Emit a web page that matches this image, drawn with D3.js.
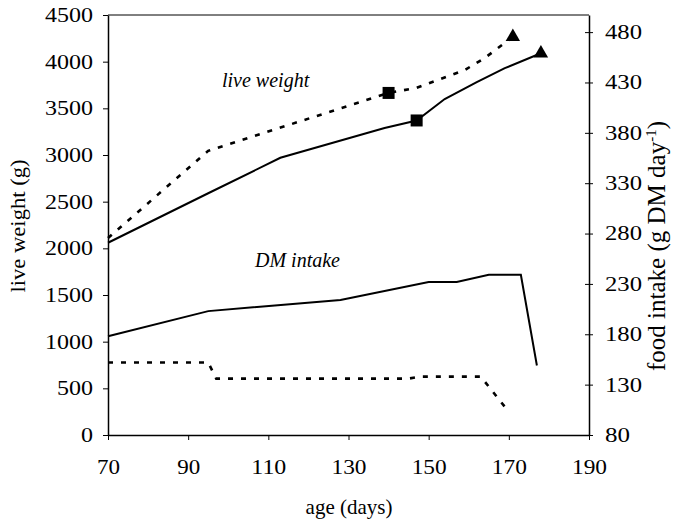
<!DOCTYPE html>
<html>
<head>
<meta charset="utf-8">
<script src="https://cdn.jsdelivr.net/npm/d3@7"></script>
<style>
  body { margin: 0; background: #fff; }
  svg { display: block; font-family: "Liberation Serif", "Times New Roman", serif; }
</style>
</head>
<body>
<svg id="chart" width="675" height="523"></svg>
<script>
// live weight (left axis, g)
const lwSolidDays = [70, 95, 113, 139, 147, 154, 162, 169, 178];
const lwSolid = [2060, 2590, 2970, 3290, 3370, 3600, 3780, 3930, 4090];
const lwDashDays = [70, 95, 140, 147, 159, 164, 171];
const lwDash = [2110, 3045, 3665, 3720, 3910, 4040, 4265];

// DM intake (right axis, g DM/day)
const dmSolidDays = [70, 95, 128, 150, 157, 165, 173, 177];
const dmSolid = [178, 203, 214, 232, 232, 239, 239, 149];
const dmDashDays = [70, 95, 97, 145, 148, 163, 170];
const dmDash = [152, 152, 136, 136, 138, 138, 103];

const xTicks = [70, 90, 110, 130, 150, 170, 190];
const yLeftTicks = [0, 500, 1000, 1500, 2000, 2500, 3000, 3500, 4000, 4500];
const yRightTicks = [80, 130, 180, 230, 280, 330, 380, 430, 480];

const plotLeft = 108, plotRight = 589, plotTop = 15, plotBottom = 435;
const ink = "#000";

const svg = d3.select("#chart");

const x = d3.scaleLinear().domain([70, 190]).range([plotLeft, plotRight]);
const yL = d3.scaleLinear().domain([0, 4500]).range([plotBottom, plotTop]);
const yR = d3.scaleLinear().domain([80, 497]).range([plotBottom, plotTop]);

// frame top line
svg.append("line")
    .attr("x1", plotLeft).attr("x2", plotRight)
    .attr("y1", plotTop).attr("y2", plotTop)
    .attr("stroke", ink).attr("stroke-width", 1);

function digitsWidth(s) {
    return String(s).length * 12;
}

// x axis
const gx = svg.append("g")
    .attr("transform", "translate(0," + plotBottom + ")")
    .call(d3.axisBottom(x).tickValues(xTicks).tickFormat(d3.format("d")).tickSize(5).tickSizeOuter(0));
gx.select(".domain").attr("stroke-width", 1.5);
gx.selectAll("text")
    .attr("y", 39).attr("dy", 0)
    .attr("font-size", 20)
    .attr("font-family", "Liberation Serif")
    .attr("textLength", d => digitsWidth(d) - 1)
    .attr("lengthAdjust", "spacingAndGlyphs");

// left axis
const gl = svg.append("g")
    .attr("transform", "translate(" + plotLeft + ",0)")
    .call(d3.axisLeft(yL).tickValues(yLeftTicks).tickFormat(d3.format("d")).tickSize(5).tickSizeOuter(0));
gl.select(".domain").attr("stroke-width", 1.5);
gl.selectAll("text")
    .attr("x", -15)
    .attr("font-size", 20)
    .attr("font-family", "Liberation Serif")
    .attr("textLength", d => digitsWidth(d))
    .attr("lengthAdjust", "spacingAndGlyphs");

// right axis, ticks crossing the line
const gr = svg.append("g")
    .attr("transform", "translate(" + plotRight + ",0)")
    .call(d3.axisRight(yR).tickValues(yRightTicks).tickFormat(d3.format("d")).tickSize(4).tickSizeOuter(0));
gr.select(".domain").attr("stroke-width", 1.5);
gr.selectAll(".tick line").attr("x1", -4);
gr.selectAll("text")
    .attr("x", 16)
    .attr("font-size", 20)
    .attr("font-family", "Liberation Serif")
    .attr("textLength", d => digitsWidth(d) + 1)
    .attr("lengthAdjust", "spacingAndGlyphs");

svg.selectAll(".domain, .tick line").attr("stroke", ink);
svg.selectAll(".tick text").attr("fill", ink);

// lines
function drawLine(days, vals, yScale, dashed) {
    const pts = days.map((d, i) => [d, vals[i]]);
    const line = d3.line().x(p => x(p[0])).y(p => yScale(p[1]));
    svg.append("path")
        .datum(pts)
        .attr("d", line)
        .attr("fill", "none")
        .attr("stroke", ink)
        .attr("stroke-width", dashed ? 2.6 : 2)
        .attr("stroke-dasharray", dashed ? "5,8" : null);
}

drawLine(lwSolidDays, lwSolid, yL, false);
drawLine(lwDashDays, lwDash, yL, true);
drawLine(dmSolidDays, dmSolid, yR, false);
drawLine(dmDashDays, dmDash, yR, true);

// markers: squares mid-way, triangles at the end
const squares = [
    [lwSolidDays[4], lwSolid[4]],
    [lwDashDays[2], lwDash[2]]
];
const triangles = [
    [lwSolidDays[lwSolidDays.length - 1], lwSolid[lwSolid.length - 1]],
    [lwDashDays[lwDashDays.length - 1], lwDash[lwDash.length - 1]]
];

svg.selectAll(".sq")
    .data(squares)
    .enter()
    .append("rect")
    .attr("class", "sq")
    .attr("x", d => x(d[0]) - 6)
    .attr("y", d => yL(d[1]) - 6)
    .attr("width", 12)
    .attr("height", 12)
    .attr("fill", ink);

svg.selectAll(".tri")
    .data(triangles)
    .enter()
    .append("path")
    .attr("class", "tri")
    .attr("d", d3.symbol().type(d3.symbolTriangle).size(90))
    .attr("transform", d => "translate(" + x(d[0]) + "," + yL(d[1]) + ")")
    .attr("fill", ink);

// annotations
svg.append("text")
    .text("live weight")
    .attr("x", 222).attr("y", 87)
    .attr("font-size", 20)
    .attr("font-style", "italic")
    .attr("fill", ink);

svg.append("text")
    .text("DM intake")
    .attr("x", 255).attr("y", 267)
    .attr("font-size", 20)
    .attr("font-style", "italic")
    .attr("fill", ink);

// axis titles
svg.append("text")
    .text("age (days)")
    .attr("x", 349).attr("y", 514)
    .attr("text-anchor", "middle")
    .attr("font-size", 21)
    .attr("fill", ink);

svg.append("text")
    .text("live weight (g)")
    .attr("transform", "translate(25,226) rotate(-90)")
    .attr("text-anchor", "middle")
    .attr("font-size", 21)
    .attr("textLength", 133)
    .attr("lengthAdjust", "spacingAndGlyphs")
    .attr("fill", ink);

const rt = svg.append("text")
    .attr("transform", "translate(665,246) rotate(-90)")
    .attr("text-anchor", "middle")
    .attr("font-size", 25)
    .attr("fill", ink);
rt.append("tspan").text("food intake (g DM day");
rt.append("tspan").text("-1").attr("font-size", 15).attr("dy", -9);
rt.append("tspan").text(")").attr("dy", 9);
</script>
</body>
</html>
